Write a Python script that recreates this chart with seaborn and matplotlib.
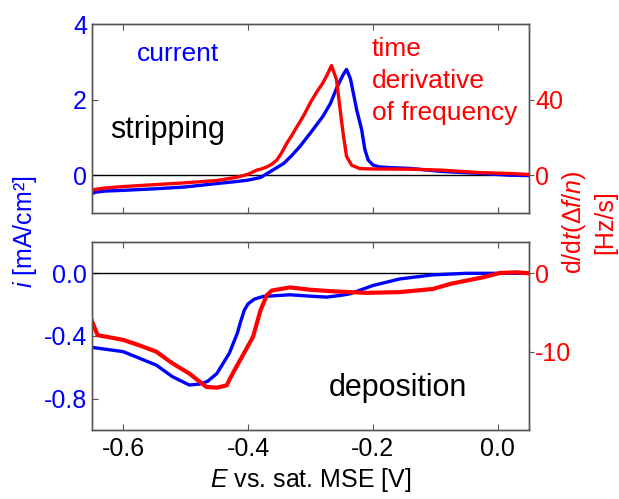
import numpy as np
import pandas as pd
import matplotlib.pyplot as plt
import seaborn as sns

# =========================
# DATA
# =========================
# stripping sweep - current density [mA/cm2]
E_strip_cur = [-0.652, -0.645, -0.63, -0.60, -0.55, -0.50, -0.45, -0.42, -0.40,
               -0.38, -0.37, -0.357, -0.343, -0.33, -0.317, -0.30, -0.28, -0.268,
               -0.258, -0.248, -0.2423, -0.236, -0.226, -0.218, -0.2128, -0.2075,
               -0.20, -0.19, -0.17, -0.14, -0.09, -0.03, 0.02, 0.05]
i_strip = [-0.50, -0.45, -0.42, -0.40, -0.36, -0.31, -0.22, -0.17, -0.13,
           -0.06, 0.04, 0.17, 0.31, 0.52, 0.76, 1.12, 1.56, 1.90,
           2.31, 2.65, 2.80, 2.55, 1.73, 1.20, 0.67, 0.40,
           0.27, 0.22, 0.20, 0.18, 0.10, 0.05, 0.0, -0.01]

# stripping sweep - time derivative of frequency [Hz/s]
E_strip_dfdt = [-0.652, -0.645, -0.63, -0.60, -0.55, -0.50, -0.45, -0.42, -0.40,
                -0.386, -0.378, -0.37, -0.362, -0.354, -0.346, -0.338, -0.33,
                -0.322, -0.311, -0.30, -0.29, -0.28, -0.272, -0.2664,
                -0.2584, -0.253, -0.2477, -0.2423, -0.2342, -0.2209, -0.20,
                -0.14, -0.09, -0.03, 0.02, 0.05]
dfdt_strip = [-8.5, -7.5, -6.8, -6.0, -5.0, -4.0, -2.8, -1.2, 0.5,
              2.7, 3.4, 4.4, 5.8, 8.0, 12.0, 16.9, 21.0,
              25.5, 31.5, 38.5, 44.0, 48.9, 54.0, 58.0,
              50.7, 36.0, 22.0, 10.0, 5.3, 3.5, 3.3,
              3.2, 2.7, 1.4, 0.9, 0.4]

# deposition sweep - current density [mA/cm2]
E_dep_cur = [-0.655, -0.60, -0.547, -0.521, -0.494, -0.478, -0.465, -0.45, -0.43,
             -0.417, -0.412, -0.406, -0.40, -0.39, -0.376, -0.333, -0.30, -0.274,
             -0.25, -0.237, -0.20, -0.157, -0.104, -0.05, 0.05]
i_dep = [-0.47, -0.50, -0.586, -0.66, -0.713, -0.707, -0.69, -0.64, -0.51,
         -0.38, -0.31, -0.235, -0.195, -0.165, -0.148, -0.137, -0.146, -0.152,
         -0.14, -0.131, -0.078, -0.036, -0.01, 0.0, 0.0]

# deposition sweep - time derivative of frequency [Hz/s]
E_dep_dfdt = [-0.652, -0.641, -0.62, -0.60, -0.574, -0.547, -0.521, -0.494, -0.478,
              -0.467, -0.45, -0.434, -0.43, -0.422, -0.41, -0.392, -0.38, -0.37,
              -0.362, -0.333, -0.30, -0.264, -0.21, -0.157, -0.104, -0.076, -0.05,
              -0.023, 0.004, 0.031, 0.05]
dfdt_dep = [-5.7, -7.9, -8.2, -8.5, -9.2, -10.0, -11.5, -12.8, -13.8,
            -14.5, -14.6, -14.3, -13.6, -12.4, -10.7, -8.1, -4.7, -2.8,
            -2.2, -1.8, -2.1, -2.3, -2.5, -2.4, -2.0, -1.35, -0.93,
            -0.5, 0.05, 0.13, 0.0]

x_ticks = [-0.6, -0.4, -0.2, 0.0]
x_ticklabels = ['-0.6', '-0.4', '-0.2', '0.0']

# =========================
# STYLE
# =========================
sns.set_style("ticks")
plt.rcParams['font.family'] = ['Liberation Sans', 'DejaVu Sans']
plt.rcParams['mathtext.fontset'] = 'custom'
plt.rcParams['mathtext.rm'] = 'Liberation Sans'
plt.rcParams['mathtext.it'] = 'Liberation Sans:italic'
plt.rcParams['axes.unicode_minus'] = False

BLUE = '#0000ff'
RED = '#ff0000'
GRAY = '#555555'
FS = 18

fig = plt.figure(figsize=(6.19, 4.99), dpi=100)
ax_top = fig.add_axes([0.1486, 0.5731, 0.706, 0.3788])
ax_bot = fig.add_axes([0.1486, 0.1383, 0.706, 0.3768])
ax_top_r = ax_top.twinx()
ax_bot_r = ax_bot.twinx()

# =========================
# CURVES
# =========================
for ax in (ax_top, ax_bot):
    ax.axhline(0, color='black', lw=1, zorder=1)

sns.lineplot(x=E_strip_cur, y=i_strip, ax=ax_top, color=BLUE, lw=2.4, zorder=2)
sns.lineplot(x=E_strip_dfdt, y=dfdt_strip, ax=ax_top_r, color=RED, lw=2.4)
sns.lineplot(x=E_dep_cur, y=i_dep, ax=ax_bot, color=BLUE, lw=2.4, zorder=2)
sns.lineplot(x=E_dep_dfdt, y=dfdt_dep, ax=ax_bot_r, color=RED, lw=3.0)

# =========================
# AXES
# =========================
ax_top.set_ylim(-1, 4)
ax_top_r.set_ylim(-20, 80)
ax_bot.set_ylim(-1.0, 0.2)
ax_bot_r.set_ylim(-20, 4)

ax_top.set_yticks([0, 2, 4])
ax_top_r.set_yticks([0, 40])
ax_bot.set_yticks([-0.8, -0.4, 0.0])
ax_bot.set_yticklabels(['-0.8', '-0.4', '0.0'])
ax_bot_r.set_yticks([-10, 0])

for ax in (ax_top, ax_bot):
    ax.set_xlim(-0.65, 0.05)
    ax.set_xticks(x_ticks)
    ax.tick_params(axis='x', direction='in', top=True, bottom=True, length=4,
                   color=GRAY, labelcolor='black', labelsize=FS, pad=5)
    ax.tick_params(axis='y', direction='in', left=True, right=False, length=4,
                   color=GRAY, labelcolor=BLUE, labelsize=FS)
ax_top.set_xticklabels([])
ax_bot.set_xticklabels(x_ticklabels)

for ax in (ax_top_r, ax_bot_r):
    ax.tick_params(axis='y', direction='out', length=3.5, color=GRAY,
                   labelcolor=RED, labelsize=FS, pad=1)

for ax in (ax_top, ax_bot, ax_top_r, ax_bot_r):
    for sp in ax.spines.values():
        sp.set_visible(True)
        sp.set_color(GRAY)
        sp.set_linewidth(1)

ax_bot.set_xlabel('$E$ vs. sat. MSE [V]', fontsize=FS, color='black', labelpad=4)

fig.text(0.040, 0.535, '$i$ [mA/cm²]', color=BLUE, fontsize=FS,
         rotation=90, ha='center', va='center')
fig.text(0.951, 0.555, 'd/d$t$(Δ$f$/$n$)\n[Hz/s]', color=RED, fontsize=FS,
         rotation=90, ha='center', va='center', multialignment='center',
         linespacing=1.25)

# =========================
# ANNOTATIONS
# =========================
ax_top.text(0.103, 0.805, 'current', transform=ax_top.transAxes,
            color=BLUE, fontsize=19, ha='left', va='baseline')
ax_top.text(0.041, 0.398, 'stripping', transform=ax_top.transAxes,
            color='black', fontsize=22, ha='left', va='baseline')
ax_top.text(0.641, 0.70, 'time\nderivative\nof frequency', transform=ax_top.transAxes,
            color=RED, fontsize=19, ha='left', va='center', linespacing=1.42)
ax_bot.text(0.541, 0.182, 'deposition', transform=ax_bot.transAxes,
            color='black', fontsize=22, ha='left', va='baseline')

fig.savefig('out.png', dpi=100)
